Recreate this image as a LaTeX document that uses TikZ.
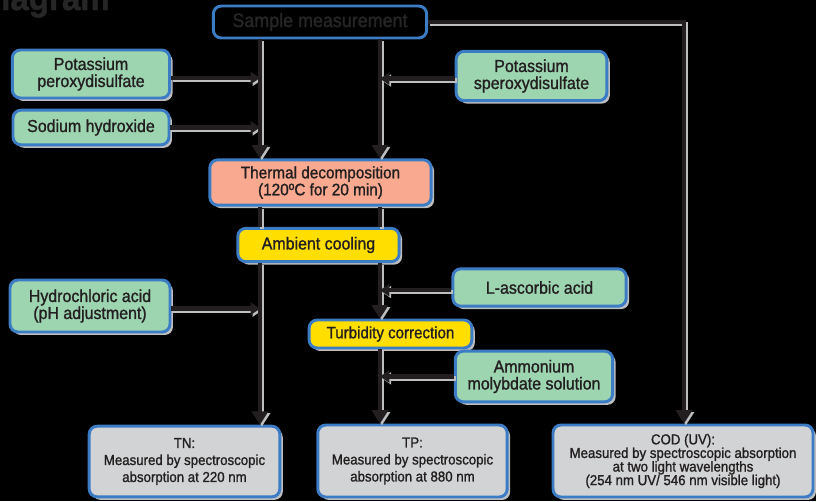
\documentclass[tikz,border=0pt]{standalone}
\usepackage{fontspec}
\setmainfont{Liberation Sans}[FakeStretch=0.92, FakeBold=1.2]
\usepackage{xcolor}
\usetikzlibrary{arrows.meta,shadows}

\definecolor{chemgreen}{HTML}{9DD5B1}
\definecolor{boxblue}{HTML}{3C7CC4}
\definecolor{heatsalmon}{HTML}{F8A98F}
\definecolor{stepyellow}{HTML}{FFDE00}
\definecolor{resultgray}{HTML}{D1D3D4}
\definecolor{inkdark}{HTML}{231F20}
\definecolor{pipedark}{HTML}{231F20}
\definecolor{pipelight}{HTML}{BCBEC0}
\definecolor{titlegray}{HTML}{262626}

% colour of the connector layer being drawn
\newcommand{\pipecolor}{pipedark}

\begin{document}
\begin{tikzpicture}[x=0.75pt, y=-0.75pt]
% Define styles
\tikzstyle{flowbox} = [rectangle, rounded corners=6pt, draw=boxblue, line width=2.2pt, align=center, text=inkdark, font=\fontsize{13}{12.75}\selectfont, inner sep=2pt]
\tikzstyle{boxshadow} = [drop shadow={shadow xshift=2.2pt, shadow yshift=-2.2pt, fill=pipelight, opacity=1}]
\tikzstyle{reagent} = [flowbox, boxshadow, fill=chemgreen]
\tikzstyle{heat} = [flowbox, boxshadow, fill=heatsalmon]
\tikzstyle{treat} = [flowbox, boxshadow, fill=stepyellow]
\tikzstyle{result} = [flowbox, boxshadow, fill=resultgray, font=\fontsize{10.8}{12.75}\selectfont]
\tikzstyle{pipe} = [line width=3.4pt, draw=\pipecolor]
\tikzstyle{arrow} = [pipe, -{Triangle[width=12pt, length=10pt]}]
\tikzstyle{feed} = [pipe, -{Triangle[width=9pt, length=7pt]}]

\useasboundingbox (0,0) rectangle (816,501);
\fill[black] (0,0) rectangle (816,501);

% Title (cut off at the top)
\node (title) [anchor=base west, inner sep=0pt, text=titlegray, font=\bfseries\fontsize{27}{27}\selectfont] at (-23,10) {Diagram};

% Place nodes
\node (sample) [flowbox, fill=black, text=titlegray, minimum width=160pt, minimum height=24pt, font=\fontsize{14.6}{15}\selectfont] at (320,22) {Sample measurement};
\node (ppd) [reagent, minimum width=118pt, minimum height=36pt] at (91,74) {Potassium\\peroxydisulfate};
\node (naoh) [reagent, minimum width=117pt, minimum height=26pt] at (91,127.5) {Sodium hydroxide};
\node (pspd) [reagent, minimum width=113pt, minimum height=37pt] at (531.5,76) {Potassium\\speroxydisulfate};
\node (thermal) [heat, minimum width=166pt, minimum height=34pt, font=\fontsize{12.5}{12.75}\selectfont] at (320.5,182.5) {Thermal decomposition\\(120ºC for 20 min)};
\node (cooling) [treat, minimum width=121pt, minimum height=25pt] at (318.5,245) {Ambient cooling};
\node (hcl) [reagent, minimum width=120pt, minimum height=39pt] at (90,306) {Hydrochloric acid\\(pH adjustment)};
\node (ascorbic) [reagent, minimum width=130pt, minimum height=28pt] at (539.5,287.5) {L-ascorbic acid};
\node (turbidity) [treat, minimum width=122pt, minimum height=21pt, font=\fontsize{12.3}{12}\selectfont] at (390.5,334) {Turbidity correction};
\node (molyb) [reagent, minimum width=118pt, minimum height=38pt] at (534,376.5) {Ammonium\\molybdate solution};
\node (tn) [result, minimum width=143pt, minimum height=53pt] at (184.5,461.5) {TN:\\Measured by spectroscopic\\absorption at 220 nm};
\node (tp) [result, minimum width=142pt, minimum height=54pt] at (412.5,461) {TP:\\Measured by spectroscopic\\absorption at 880 nm};
\node (cod) [result, minimum width=195pt, minimum height=54pt, font=\fontsize{10.8}{10.2}\selectfont] at (683,461) {COD (UV):\\Measured by spectroscopic absorption\\at two light wavelengths\\(254 nm UV/ 546 nm visible light)};

% Line positions
\coordinate (lx) at (260,0);
\coordinate (rx) at (380,0);
\coordinate (cx) at (684,0);

% Connectors, drawn twice: light edge first, dark line on top
\newcommand{\pipework}{%
  \draw [feed] ([yshift=-3pt]ppd.east) -- ([yshift=-3pt]ppd.east -| lx);
  \draw [feed] (naoh.east) -- (naoh.east -| lx);
  \draw [feed] ([yshift=-2pt]hcl.east) -- ([yshift=-2pt]hcl.east -| lx);
  \draw [feed] ([yshift=-2pt]pspd.west) -- ([yshift=-2pt]pspd.west -| rx);
  \draw [feed] ([yshift=-2pt]ascorbic.west) -- ([yshift=-2pt]ascorbic.west -| rx);
  \draw [feed] (molyb.west) -- (molyb.west -| rx);
  \draw [arrow] (sample.south -| lx) -- (thermal.north -| lx);
  \draw [pipe] (thermal.south -| lx) -- (cooling.north -| lx);
  \draw [arrow] (cooling.south -| lx) -- (tn.north -| lx);
  \draw [arrow] (sample.south -| rx) -- (thermal.north -| rx);
  \draw [pipe] (thermal.south -| rx) -- (cooling.north -| rx);
  \draw [arrow] (cooling.south -| rx) -- (turbidity.north -| rx);
  \draw [arrow] (turbidity.south -| rx) -- (tp.north -| rx);
  \draw [arrow] (sample.east) -| (cod.north -| cx);
}
\begin{scope}[transform canvas={xshift=1.4pt, yshift=-1.4pt}]
  \renewcommand{\pipecolor}{pipelight}
  \pipework
\end{scope}
\pipework
\end{tikzpicture}
\end{document}
